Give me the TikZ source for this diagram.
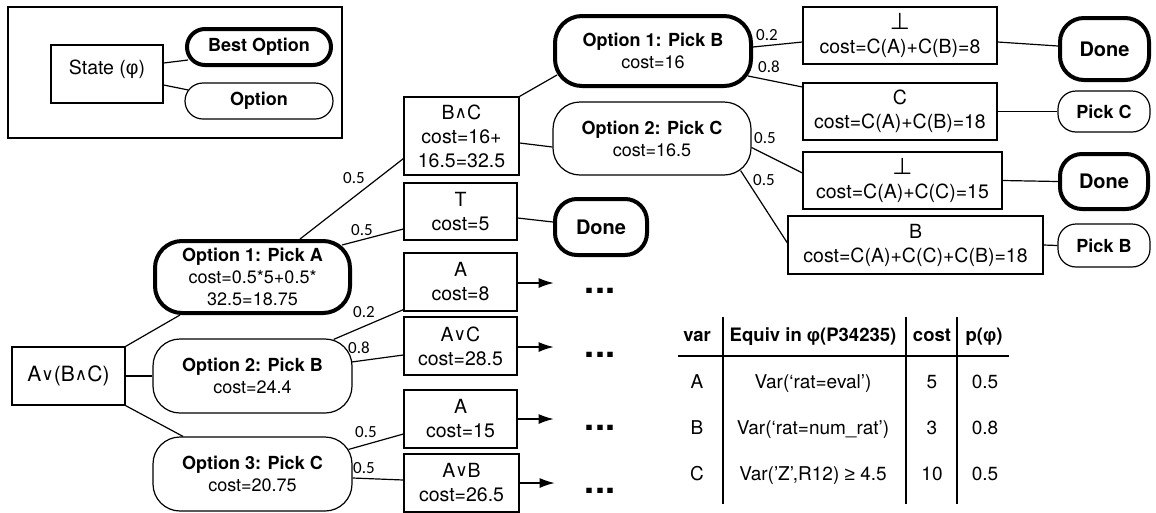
\documentclass[tikz,border=0pt]{standalone}
\usepackage{fontspec}
\setmainfont{TeX Gyre Heros}
\newfontfamily\labfont{Carlito}
\newfontfamily\greekfont{Liberation Sans}
\newfontfamily\opfont{DejaVu Sans}
\usetikzlibrary{arrows.meta,calc}

% small logical connectives and symbols
\newcommand{\myor}{\raisebox{1pt}{\opfont\fontsize{17}{17}\selectfont ∨}}
\newcommand{\myand}{\raisebox{1pt}{\opfont\fontsize{17}{17}\selectfont ∧}}
\newcommand{\phisym}{{\greekfont φ}}
\newcommand{\gesym}{{\greekfont ≥}}
\newcommand{\botsym}{{\opfont\fontsize{23}{23}\selectfont ⊥}}

\tikzset{
  box/.style={draw, line width=1.2pt, inner sep=0pt, align=center,
    font=\fontsize{19.5}{24}\selectfont},
  opt/.style={draw, line width=1.2pt, rounded corners=27pt, inner sep=0pt,
    align=center, font=\fontsize{18}{22}\selectfont},
  best/.style={opt, line width=4pt},
  tag/.style={font=\bfseries\fontsize{18}{22}\selectfont},
  donetag/.style={font=\bfseries\fontsize{20}{24}\selectfont},
  lab/.style={font=\labfont\fontsize{17}{17}\selectfont, inner sep=0pt},
  wire/.style={line width=1.2pt},
  arr/.style={line width=1.2pt, -{Latex[length=15pt,width=10pt]}},
  more/.style={font=\bfseries\fontsize{36}{36}\selectfont, inner sep=0pt},
  cell/.style={font=\fontsize{19}{22}\selectfont, inner sep=0pt,
    text height=13.5pt, text depth=0pt},
  head/.style={cell, font=\bfseries\fontsize{18.5}{22}\selectfont},
}

\begin{document}
\begin{tikzpicture}[x=1pt,y=-1pt]
\useasboundingbox (0,0) rectangle (1156,512);

% ---- legend ----
\draw[line width=1.2pt] (8,7) rectangle (342,138);
\node[box, minimum width=112pt, minimum height=58pt] (lstate) at (107,74)
  {\raisebox{0pt}[0pt][0pt]{State (\phisym)}};
\node[best, tag, minimum width=144pt, minimum height=36pt, rounded corners=18pt]
  (lbest) at (259,47) {Best Option};
\node[opt, tag, minimum width=148pt, minimum height=36pt, rounded corners=18pt]
  (lopt) at (259,101) {Option};
\draw[wire] ($(lstate.east)+(0,-11)$) -- ($(lbest.west)+(3,13)$);
\draw[wire] ($(lstate.east)+(0,11)$) -- ($(lopt.west)+(4,-11)$);

% ---- root and first options ----
\node[box, minimum width=113pt, minimum height=58pt,
  font=\fontsize{21}{24}\selectfont] (root) at (68.5,376) {A\myor(B\myand C)};
\node[best, minimum width=195pt, minimum height=72pt] (o1a) at (252.5,277)
  {\textbf{Option 1: Pick A}\\cost=0.5*5+0.5*\\32.5=18.75};
\node[opt, minimum width=199pt, minimum height=74pt] (o2b) at (252.5,376)
  {\textbf{Option 2: Pick B}\\cost=24.4};
\node[opt, minimum width=199pt, minimum height=74pt] (o3c) at (252.5,474)
  {\textbf{Option 3: Pick C}\\cost=20.75};

% ---- second level states ----
\node[box, minimum width=115pt, minimum height=78pt] (bc) at (461.5,136)
  {B\myand C\\cost=16+\\16.5=32.5};
\node[box, minimum width=113pt, minimum height=57pt] (t) at (460.5,211.5)
  {T\\cost=5};
\node[best, donetag, minimum width=92pt, minimum height=56pt, rounded corners=22pt]
  (dn1) at (601,227) {Done};
\node[box, minimum width=113pt, minimum height=58pt] (ba8) at (460.5,282)
  {A\\cost=8};
\node[box, minimum width=113pt, minimum height=58pt] (bac) at (460.5,346)
  {A\myor C\\cost=28.5};
\node[box, minimum width=113pt, minimum height=58pt] (ba15) at (460.5,419)
  {A\\cost=15};
\node[box, minimum width=115pt, minimum height=58pt] (bab) at (461.5,483)
  {A\myor B\\cost=26.5};

\node[more] (m1) at (600,291) {...};
\node[more] (m2) at (600,355) {...};
\node[more] (m3) at (600,428) {...};
\node[more] (m4) at (600,491) {...};

% ---- options under B and C ----
\node[best, minimum width=196pt, minimum height=70pt] (o1b) at (653,51)
  {\textbf{Option 1: Pick B}\\cost=16};
\node[opt, minimum width=198pt, minimum height=73pt] (o2c) at (652,138.5)
  {\textbf{Option 2: Pick C}\\cost=16.5};

\node[box, minimum width=194pt, minimum height=57pt] (r1) at (900,35.5)
  {\botsym\\cost=C(A)+C(B)=8};
\node[box, minimum width=194pt, minimum height=57pt] (r2) at (900,111.5)
  {C\\cost=C(A)+C(B)=18};
\node[box, minimum width=199pt, minimum height=57pt] (r3) at (902.5,180.5)
  {\botsym\\cost=C(A)+C(C)=15};
\node[box, minimum width=255pt, minimum height=58pt] (r4) at (915.5,245)
  {B\\cost=C(A)+C(C)+C(B)=18};

\node[best, donetag, minimum width=89pt, minimum height=62pt, rounded corners=24pt]
  (d1) at (1104.5,49) {Done};
\node[opt, tag, minimum width=92pt, minimum height=41pt, rounded corners=18pt]
  (pc) at (1104,111.5) {Pick C};
\node[best, donetag, minimum width=88pt, minimum height=55pt, rounded corners=22pt]
  (d2) at (1104,181.5) {Done};
\node[opt, tag, minimum width=92pt, minimum height=43pt, rounded corners=18pt]
  (pb) at (1104,245.5) {Pick B};

% ---- connectors ----
\draw[wire] (root.north east) -- ($(o1a.south)+(-72.5,0)$);
\draw[wire] (root.east) -- (o2b.west);
\draw[wire] (root.south east) -- ($(o3c.north)+(-69.5,0)$);

\draw[wire] ($(o1a.north)+(47.5,0)$) -- ($(bc.south west)+(0,-17)$);
\draw[wire] ($(o1a.north east)+(-10,6)$) -- ($(t.west)+(0,17.5)$);
\draw[wire] (bc.north east) -- ($(o1b.south west)+(4,-13)$);
\draw[wire] ($(bc.east)+(0,7)$) -- ($(o2c.west)+(0,8.5)$);
\draw[wire] ($(t.east)+(0,6.5)$) -- ($(dn1.west)+(0,-5)$);

\draw[wire] ($(o1b.east)+(0,-4)$) -- ($(r1.west)+(0,6.5)$);
\draw[wire] ($(o1b.south east)+(-5,-12)$) -- ($(r2.west)+(0,-24.5)$);
\draw[wire] ($(o2c.east)+(0,9)$) -- ($(r3.west)+(0,-7.5)$);
\draw[wire] ($(o2c.south east)+(-11,-5)$) -- ($(r4.west)+(0,-2)$);
\draw[wire] ($(r1.east)+(0,6.5)$) -- ($(d1.west)+(0,-3)$);
\draw[wire] (r2.east) -- (pc.west);
\draw[wire] (r3.east) -- (d2.west);
\draw[wire] (r4.east) -- (pb.west);

\draw[wire] ($(o2b.north east)+(-19,1)$) -- ($(ba8.south west)+(0,-2)$);
\draw[wire] ($(o2b.east)+(-1,-14)$) -- ($(bac.west)+(0,9)$);
\draw[wire] ($(o3c.north east)+(-4,13)$) -- ($(ba15.west)+(0,15)$);
\draw[wire] ($(o3c.east)+(0,4)$) -- ($(bab.west)+(0,-3)$);

\draw[arr] ($(ba8.east)+(0,1)$) -- ++(36,0);
\draw[arr] ($(bac.east)+(0,1)$) -- ++(36,0);
\draw[arr] (ba15.east) -- ++(36,0);
\draw[arr] (bab.east) -- ++(35,0);

% ---- probability labels ----
\node[lab] (la1) at (354,178) {0.5};
\node[lab] (la2) at (362,230) {0.5};
\node[lab] (la3) at (364,312) {0.2};
\node[lab] (la4) at (359,348) {0.8};
\node[lab] (la5) at (366,432) {0.5};
\node[lab] (la6) at (364,468) {0.5};
\node[lab] (la7) at (767,35) {0.2};
\node[lab] (la8) at (769,67) {0.8};
\node[lab] (la9) at (765,138) {0.5};
\node[lab] (la10) at (764,180) {0.5};

% ---- variable table ----
\draw[wire] (723,317) -- (723,504);
\draw[wire] (906,317) -- (906,504);
\draw[wire] (957,317) -- (957,504);
\draw[wire] (678,356) -- (1009,356);

\node[head] (h1) at (697,335) {var};
\node[head] (h2) at (813,335) {Equiv in \phisym(P34235)};
\node[head] (h3) at (932,335) {cost};
\node[head] (h4) at (984,335) {p(\phisym)};

\node[cell] (a1) at (697,382) {A};
\node[cell] (a2) at (813,382) {Var(‘rat=eval’)};
\node[cell] (a3) at (932,382) {5};
\node[cell] (a4) at (985,382) {0.5};

\node[cell] (b1) at (697,428) {B};
\node[cell] (b2) at (813,428) {Var(‘rat=num\_rat’)};
\node[cell] (b3) at (932,428) {3};
\node[cell] (b4) at (985,428) {0.8};

\node[cell] (c1) at (697,474) {C};
\node[cell] (c2) at (813,474) {Var(’Z’,R12) \gesym{} 4.5};
\node[cell] (c3) at (932,474) {10};
\node[cell] (c4) at (985,474) {0.5};
\end{tikzpicture}
\end{document}
